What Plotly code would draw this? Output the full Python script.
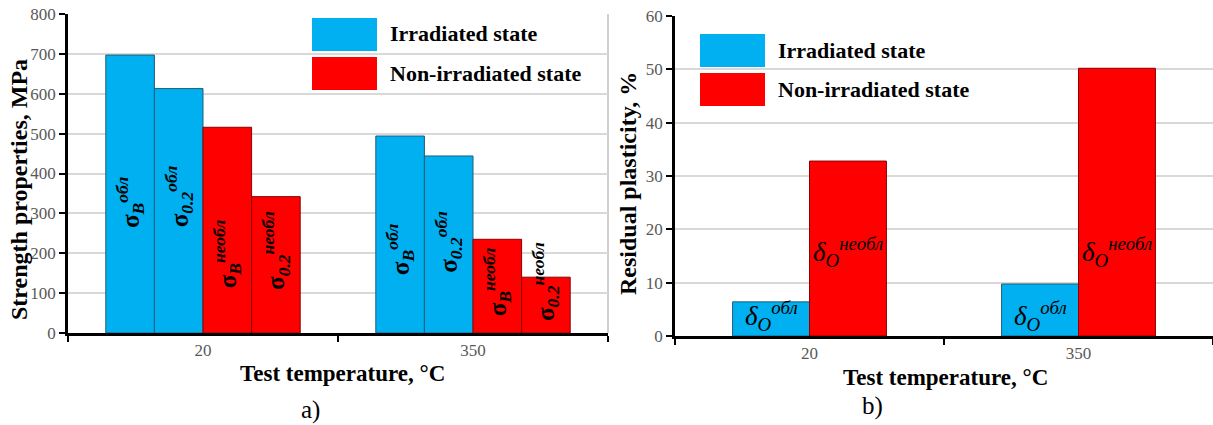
import plotly.graph_objects as go

# Test temperatures (°C)
temperatures = ["20", "350"]

# a) Strength properties, MPa
sigma_b_irradiated = [697, 494]
sigma_02_irradiated = [613, 444]
sigma_b_non_irradiated = [516, 235]
sigma_02_non_irradiated = [342, 140]

# b) Residual plasticity, %
delta_irradiated = [6.4, 9.75]
delta_non_irradiated = [32.8, 50.2]

legend_labels = ["Irradiated state", "Non-irradiated state"]

BLUE = "#00B0F0"
RED = "#FF0000"
SERIF = "Liberation Serif, Times New Roman, serif"
W, H = 1213, 425


def px_x(x):
    return x / W


def px_y(y):
    return 1 - y / H


fig = go.Figure()

left_series = [
    (sigma_b_irradiated, BLUE, "#1e5f7a"),
    (sigma_02_irradiated, BLUE, "#1e5f7a"),
    (sigma_b_non_irradiated, RED, "#8b0000"),
    (sigma_02_non_irradiated, RED, "#8b0000"),
]
for vals, color, edge in left_series:
    fig.add_trace(go.Bar(
        x=temperatures, y=vals, xaxis="x", yaxis="y",
        marker=dict(color=color, line=dict(color=edge, width=1)),
        showlegend=False, hoverinfo="skip",
    ))

right_width = 0.286
for vals, color, edge, off in [
    (delta_irradiated, BLUE, "#1e5f7a", -right_width),
    (delta_non_irradiated, RED, "#8b0000", 0.0),
]:
    fig.add_trace(go.Bar(
        x=temperatures, y=vals, xaxis="x2", yaxis="y2",
        width=right_width, offset=off,
        marker=dict(color=color, line=dict(color=edge, width=1)),
        showlegend=False, hoverinfo="skip",
    ))

axis_common = dict(
    showline=True, linecolor="black", linewidth=2.5,
    ticks="outside", ticklen=6, tickwidth=2, tickcolor="black",
    tickfont=dict(family=SERIF, size=17, color="#595959"),
    zeroline=False, automargin=False,
)

fig.update_layout(
    width=W, height=H,
    margin=dict(l=0, r=0, t=0, b=0, autoexpand=False),
    paper_bgcolor="white", plot_bgcolor="white",
    barmode="group", bargap=0.28, bargroupgap=0,
    xaxis=dict(domain=[px_x(68), px_x(608)], type="category",
               tickson="boundaries", showgrid=False, anchor="y", **axis_common),
    yaxis=dict(domain=[px_y(333), px_y(14)], range=[0, 800], dtick=100,
               showgrid=True, gridcolor="#d9d9d9", gridwidth=1.5, anchor="x",
               **axis_common),
    xaxis2=dict(domain=[px_x(675), 1], type="category",
                tickson="boundaries", showgrid=False, anchor="y2", **axis_common),
    yaxis2=dict(domain=[px_y(336), px_y(16)], range=[0, 60], dtick=10,
                showgrid=True, gridcolor="#d9d9d9", gridwidth=1.5, anchor="x2",
                **axis_common),
)

# Frame on the right edge of panel a)
fig.add_shape(type="line", xref="paper", yref="paper",
              x0=px_x(608), x1=px_x(608), y0=px_y(333), y1=px_y(14),
              line=dict(color="#bfbfbf", width=1.5), layer="below")

# Legend boxes and labels drawn for each panel
for (bx, by) in [(312, 18), (700, 34)]:
    for k, (lab, col) in enumerate(zip(legend_labels, [BLUE, RED])):
        y0 = by + k * 39
        fig.add_shape(type="rect", xref="paper", yref="paper",
                      x0=px_x(bx), x1=px_x(bx + 65), y0=px_y(y0 + 33), y1=px_y(y0),
                      fillcolor=col, line=dict(width=0))
        fig.add_annotation(xref="paper", yref="paper", x=px_x(bx + 76),
                           y=px_y(y0 + 16), text=f"<b>{lab}</b>", showarrow=False,
                           xanchor="left", yanchor="middle",
                           font=dict(family=SERIF, size=22, color="black"))

# Rotated symbol labels inside the strength bars
sigma_labels = [
    "<b>σ<sub><i>B</i></sub><sup><i>обл</i></sup></b>",
    "<b>σ<sub><i>0.2</i></sub><sup><i>обл</i></sup></b>",
    "<b>σ<sub><i>B</i></sub><sup><i>необл</i></sup></b>",
    "<b>σ<sub><i>0.2</i></sub><sup><i>необл</i></sup></b>",
]
sigma_label_y = [[326, 342, 198, 208], [208, 228, 128, 130]]
bar_offsets = [-0.27, -0.09, 0.09, 0.27]
for gi in range(len(temperatures)):
    for k, txt in enumerate(sigma_labels):
        fig.add_annotation(xref="x", yref="y", x=gi + bar_offsets[k],
                           y=sigma_label_y[gi][k], text=txt, textangle=-90,
                           showarrow=False, xanchor="center", yanchor="middle",
                           font=dict(family=SERIF, size=25, color="black"))

# Symbol labels inside the plasticity bars
delta_labels = ["<i>δ<sub>O</sub><sup>обл</sup></i>",
                "<i>δ<sub>O</sub><sup>необл</sup></i>"]
delta_label_y = [3.75, 15.75]
for gi in range(len(temperatures)):
    for k, txt in enumerate(delta_labels):
        fig.add_annotation(xref="x2", yref="y2",
                           x=gi + (-right_width / 2 if k == 0 else right_width / 2),
                           y=delta_label_y[k], text=txt, showarrow=False,
                           xanchor="center", yanchor="middle",
                           font=dict(family=SERIF, size=27, color="black"))

# Axis titles
for x, y, txt, ang, size in [
    (342, 373, "Test temperature, °C", 0, 23),
    (945, 377, "Test temperature, °C", 0, 23),
    (19, 190, "Strength properties, MPa", -90, 24),
    (628, 184, "Residual plasticity, %", -90, 24),
]:
    fig.add_annotation(xref="paper", yref="paper", x=px_x(x), y=px_y(y),
                       text=f"<b>{txt}</b>", textangle=ang, showarrow=False,
                       xanchor="center", yanchor="middle",
                       font=dict(family=SERIF, size=size, color="black"))

# Panel captions
for x, y, txt in [(310, 410, "a)"), (872, 406, "b)")]:
    fig.add_annotation(xref="paper", yref="paper", x=px_x(x), y=px_y(y),
                       text=txt, showarrow=False, xanchor="center", yanchor="middle",
                       font=dict(family=SERIF, size=25, color="black"))

fig.write_html("out.html")
